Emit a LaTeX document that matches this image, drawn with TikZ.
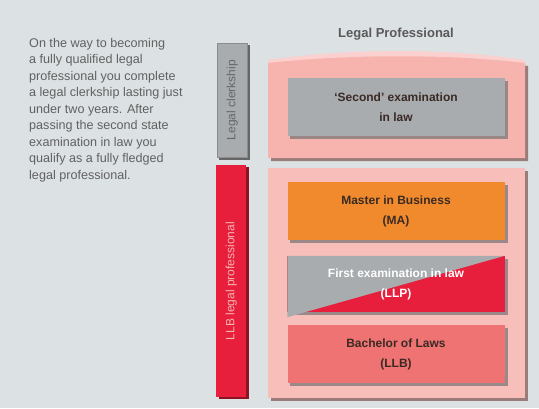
\documentclass[tikz,border=0pt]{standalone}
\usepackage{fontspec}
\setmainfont{Liberation Sans}
\usepackage{tikz}
\definecolor{pageBg}{HTML}{DCE1E4}
\definecolor{panelPink}{HTML}{F7B3AE}
\definecolor{panelEdge}{HTML}{9A7C7A}
\definecolor{boxGrey}{HTML}{A8ACAF}
\definecolor{boxOrange}{HTML}{F08A2C}
\definecolor{boxRed}{HTML}{E81F3C}
\definecolor{boxSalmon}{HTML}{EE7372}
\definecolor{inkDark}{HTML}{3A2A24}
\newcommand{\boxShadow}[1]{\fill[black!55, opacity=0.7] ([shift={(3,3)}]#1.north west) rectangle ([shift={(3,3)}]#1.south east);}

\begin{document}
\begin{tikzpicture}[x=1pt, y=-1pt]
  \tikzset{stepbox/.style={minimum width=217pt, minimum height=58pt, inner sep=0pt,
                           align=center, font=\fontsize{12}{20}\selectfont\bfseries, text=inkDark},
           sidebar/.style={minimum width=30pt, inner sep=0pt, anchor=north west}}
  \fill[pageBg] (0,0) rectangle (539,408);
  \useasboundingbox (0,0) rectangle (539,408);

  % intro text
  \node[anchor=north west, align=left, text=black!62, inner sep=0pt,
        font=\fontsize{12.6}{16.5}\selectfont] (intro) at (29,38)
    {On the way to becoming\\a fully qualified legal\\professional you complete\\a legal clerkship lasting just\\under two years. After\\passing the second state\\examination in law you\\qualify as a fully fledged\\legal professional.};

  % side bars
  \fill[black!60] (219,45) rectangle (250,160);
  \node[sidebar, minimum height=114pt, fill=boxGrey, draw=black!45] (clerkbar) at (217,43) {};
  \node[rotate=90, text=black!60, font=\fontsize{12}{13}\selectfont] at (clerkbar.center) {Legal clerkship};
  \fill[boxRed!60!black] (219,167) rectangle (249,399);
  \node[sidebar, minimum height=232pt, fill=boxRed] (lawbar) at (216,165) {};
  \node[rotate=90, text=panelPink, font=\fontsize{12}{13}\selectfont] at (lawbar.center) {LLB legal professional};

  % title and upper panel
  \node[font=\fontsize{13}{14}\selectfont\bfseries, text=black!65] (title) at (396,34) {Legal Professional};
  \fill[panelEdge] (271,66) .. controls (350,56) and (450,56) .. (528,66) -- (528,161) -- (271,161) -- cycle;
  \fill[panelPink!60] (268,60) .. controls (350,48) and (450,48) .. (525,60) -- (525,66) -- (268,66) -- cycle;
  \fill[panelPink] (268,63) .. controls (350,54) and (450,54) .. (525,63) -- (525,158) -- (268,158) -- cycle;
  \node[stepbox, fill=boxGrey, minimum height=58pt] (secondexam) at (396,107) {};
  \boxShadow{secondexam}
  \node[stepbox, fill=boxGrey, minimum height=58pt] at (secondexam.center) {`Second' examination\\in law};

  % lower panel
  \fill[panelEdge] (271,171) rectangle (528,401);
  \fill[panelPink!85] (268,168) rectangle (525,398);

  \node[stepbox, fill=boxOrange] (master) at (396,211) {};
  \boxShadow{master}
  \node[stepbox, fill=boxOrange] at (master.center) {Master in Business\\(MA)};

  \node[stepbox, minimum height=56pt] (firstexam) at (396,284) {};
  \boxShadow{firstexam}
  \fill[boxRed] (firstexam.north west) rectangle (firstexam.south east);
  \fill[boxGrey] (firstexam.north west) -- (firstexam.north east) -- ([yshift=-5]firstexam.south west) -- cycle;
  \node[stepbox, minimum height=56pt, text=white] at (firstexam.center) {First examination in law\\(LLP)};

  \node[stepbox, fill=boxSalmon] (bachelor) at (396,354) {};
  \boxShadow{bachelor}
  \node[stepbox, fill=boxSalmon] at (bachelor.center) {Bachelor of Laws\\(LLB)};
\end{tikzpicture}
\end{document}
